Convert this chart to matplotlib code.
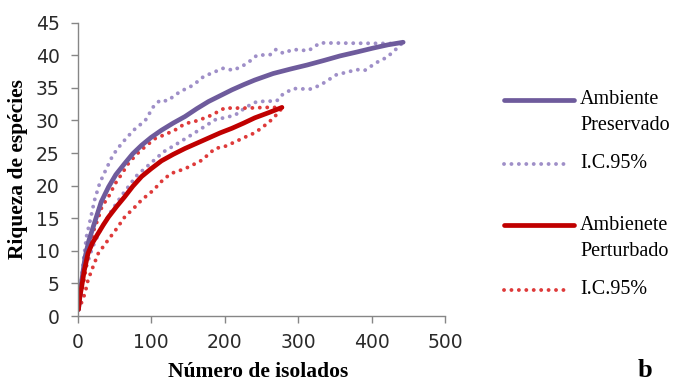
import matplotlib
matplotlib.use("Agg")
import matplotlib.pyplot as plt
from matplotlib.lines import Line2D

# ---- data ----
pres_x = [1, 5, 10, 15, 24, 32, 42, 52, 64, 75, 87, 100, 114, 130, 146, 162, 178, 194,
          210, 226, 241, 266, 290, 312, 335, 357, 380, 402, 422, 443]
pres_y = [1, 5, 9, 11.5, 14.7, 17.5, 19.8, 21.7, 23.4, 24.9, 26.2, 27.4, 28.5, 29.6, 30.6,
          31.8, 32.9, 33.8, 34.7, 35.5, 36.2, 37.2, 37.9, 38.5, 39.2, 39.9, 40.5, 41.1, 41.6, 42]

pres_up_x = [1, 5, 8, 12, 17, 23, 30, 39, 48, 60, 76, 92, 103, 112, 122, 139, 157, 171, 181,
             198, 212, 230, 244, 262, 270, 280, 293, 314, 330, 434, 443]
pres_up_y = [1, 5.5, 8.6, 12.2, 14.7, 17.8, 20.4, 22.6, 24.7, 26.5, 28.5, 30, 32.1, 33.1, 33,
             34.4, 35.4, 36.7, 37.2, 38, 37.7, 38.7, 40, 40.1, 40.9, 40.3, 40.9, 40.7, 41.9, 41.8, 42]

pres_lo_x = [1, 5, 10, 20, 30, 44, 60, 80, 100, 117, 132, 155, 187, 214, 230, 244, 271, 278,
             293, 316, 330, 352, 380, 391, 407, 421, 432, 443]
pres_lo_y = [1, 3.5, 7, 10.5, 13, 15.8, 18.5, 21.5, 23.5, 25.2, 26.2, 27.8, 30.1, 30.8, 32.1,
             32.9, 33, 33.9, 34.9, 34.8, 35.4, 37, 37.8, 37.7, 38.9, 39.7, 40.8, 42]

pert_x = [1, 3, 5.4, 9, 14, 20, 28, 35, 42, 53, 64, 75, 87, 100, 114, 130, 146, 162, 178,
          194, 210, 226, 241, 260, 278]
pert_y = [1, 3, 4.5, 7, 9.6, 11.2, 12.7, 14, 15.2, 16.8, 18.3, 19.9, 21.4, 22.6, 23.8, 24.8,
          25.7, 26.5, 27.3, 28.1, 28.8, 29.6, 30.4, 31.2, 32]

pert_up_x = [1, 5, 10, 16, 22, 28, 33, 42, 51, 60, 69, 80, 92, 105, 118, 132, 146, 164, 182,
             200, 232, 255, 279]
pert_up_y = [1, 3.5, 6.5, 10.6, 13.2, 15, 16.8, 18.3, 20.3, 21.8, 23.4, 24.8, 26, 27.2, 27.8,
             28.5, 29.5, 30, 30.8, 31.9, 31.9, 32, 32]

pert_lo_x = [1, 5, 10, 14, 21, 28, 39, 53, 64, 76, 87, 103, 117, 128, 146, 157, 169, 187, 200,
             214, 225, 239, 250, 266, 279]
pert_lo_y = [1, 2, 3.5, 5.5, 7.6, 9.6, 11.3, 13.4, 15.2, 16.5, 17.8, 19.3, 21, 21.9, 22.6,
             23.2, 23.9, 25.7, 26, 26.7, 27.3, 28, 28.8, 30.3, 32]

x_ticks = [0, 100, 200, 300, 400, 500]
y_ticks = [0, 5, 10, 15, 20, 25, 30, 35, 40, 45]
x_label = "Número de isolados"
y_label = "Riqueza de espécies"
legend_labels = [["Ambiente", "Preservado"], ["I.C.95%"], ["Ambienete", "Perturbado"], ["I.C.95%"]]

# ---- styles ----
C_PRES = "#6E5B9C"
C_PRES_CI = "#9F8FC8"
C_PERT = "#C00000"
C_PERT_CI = "#DE3A3A"
AX_COL = "#868686"
SERIF = ["Liberation Serif", "DejaVu Serif"]

fig = plt.figure(figsize=(6.83, 3.83), dpi=100)
ax = fig.add_axes([77.7 / 683, 1 - 316 / 383, (445 - 77.7) / 683, (316 - 22.7) / 383])

dot = dict(linestyle=(0, (0.01, 1.9)), dash_capstyle="round", linewidth=2.8)

ax.plot(pres_up_x, pres_up_y, color=C_PRES_CI, **dot)
ax.plot(pres_lo_x, pres_lo_y, color=C_PRES_CI, **dot)
ax.plot(pert_up_x, pert_up_y, color=C_PERT_CI, **dot)
ax.plot(pert_lo_x, pert_lo_y, color=C_PERT_CI, **dot)
ax.plot(pres_x, pres_y, color=C_PRES, linewidth=3.4, solid_capstyle="round")
ax.plot(pert_x, pert_y, color=C_PERT, linewidth=3.4, solid_capstyle="round")

ax.set_xlim(0, 500)
ax.set_ylim(0, 45)
ax.set_xticks(x_ticks)
ax.set_yticks(y_ticks)
for s in ["top", "right"]:
    ax.spines[s].set_visible(False)
for s in ["left", "bottom"]:
    ax.spines[s].set_color(AX_COL)
    ax.spines[s].set_linewidth(1.0)
ax.tick_params(axis="both", direction="out", length=5, width=1.0, color=AX_COL,
               labelsize=13.5, labelcolor="#2a2a2a")
ax.tick_params(axis="y", pad=8)
ax.tick_params(axis="x", pad=7)

fig.text(18 / 683, 1 - 169 / 383, y_label, rotation=90, ha="center", va="center",
         fontsize=15.5, fontweight="bold", family=SERIF)
fig.text(258 / 683, 1 - 382 / 383, x_label, ha="center", va="bottom",
         fontsize=15.5, fontweight="bold", family=SERIF)
fig.text(645 / 683, 1 - 382 / 383, "b", ha="center", va="bottom",
         fontsize=19, fontweight="bold", family=SERIF)

# ---- legend (drawn manually to match layout) ----
leg_rows = [
    (100, C_PRES, "solid", 125),
    (164, C_PRES_CI, "dot", None),
    (225, C_PERT, "solid", 252),
    (290, C_PERT_CI, "dot", None),
]
for (ypx, col, kind, y2), lab in zip(leg_rows, legend_labels):
    yf = 1 - ypx / 383
    if kind == "solid":
        ln = Line2D([504 / 683, 574 / 683], [yf, yf], transform=fig.transFigure,
                    color=col, linewidth=3.4, solid_capstyle="round")
    else:
        ln = Line2D([504 / 683, 569 / 683], [yf, yf], transform=fig.transFigure,
                    color=col, **dot)
    fig.add_artist(ln)
    fig.text(580 / 683, yf, lab[0], ha="left", va="center", fontsize=14.5, family=SERIF)
    if len(lab) > 1:
        fig.text(580 / 683, 1 - y2 / 383, lab[1], ha="left", va="center",
                 fontsize=14.5, family=SERIF)

fig.savefig("out.png", dpi=100)
